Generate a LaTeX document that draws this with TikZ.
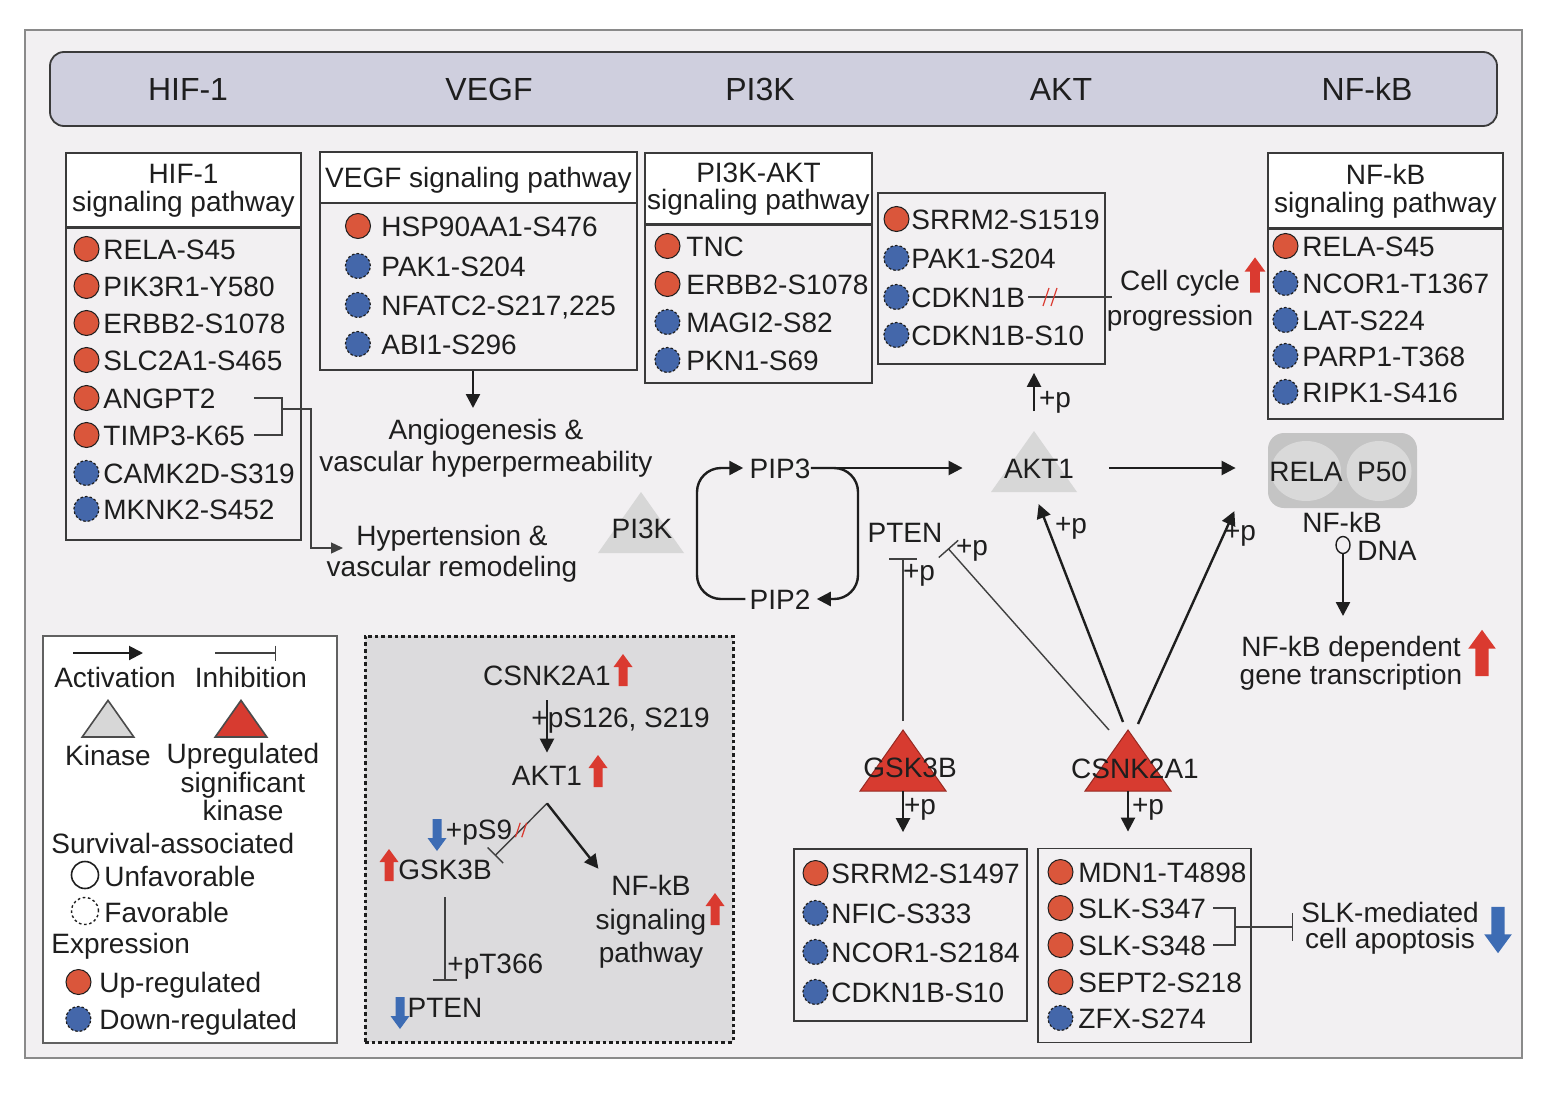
\documentclass[tikz,border=0pt]{standalone}
\usepackage{fontspec}
\setmainfont{Liberation Sans}
\usetikzlibrary{arrows.meta,positioning,shapes.geometric}

\definecolor{ink}{HTML}{1E1E1E}
\definecolor{boxLine}{HTML}{3A3A3A}
\definecolor{bgFrame}{HTML}{F2F0F2}
\definecolor{frameLine}{HTML}{8A8A8A}
\definecolor{bannerFill}{HTML}{CFCFDE}
\definecolor{upRed}{HTML}{DA563B}
\definecolor{dnBlue}{HTML}{4467AA}
\definecolor{kinGray}{HTML}{D7D7D7}
\definecolor{upTri}{HTML}{D73B30}
\definecolor{arrRed}{HTML}{DA3A30}
\definecolor{arrBlue}{HTML}{3D6CB4}
\definecolor{insetFill}{HTML}{DCDBDD}
\definecolor{cplxFill}{HTML}{C4C4C4}
\definecolor{subFill}{HTML}{D9D9D9}

\begin{document}
\begin{tikzpicture}[
    x=0.5pt, y=-0.5pt,
    every node/.style={font=\fontsize{14}{14}\selectfont, inner sep=0pt, text=ink},
    lbl/.style={text height=10pt, text depth=0pt},
    band/.style={font=\fontsize{16}{16}\selectfont, text height=11.5pt, text depth=0pt},
    multi/.style={align=center, anchor=north, font=\fontsize{14}{#1}\selectfont},
    it/.style={anchor=west, text height=10pt, text depth=0pt},
    updot/.style={circle, fill=upRed, draw=ink, line width=0.5pt, minimum size=12.5pt},
    dndot/.style={circle, fill=dnBlue, draw=ink, line width=0.6pt, dash pattern=on 1.3pt off 1pt, minimum size=12.5pt},
    upd/.style={label={[updot, xshift=-#1]left:{}}},
    dnd/.style={label={[dndot, xshift=-#1]left:{}}},
    hdr/.style={rectangle, draw=boxLine, line width=0.9pt, fill=white, align=center, font=\fontsize{14}{13.8}\selectfont},
    listbox/.style={rectangle, draw=boxLine, line width=0.9pt},
    subunit/.style={ellipse, fill=subFill, minimum height=30pt},
    act/.style={draw=ink, line width=1.2pt, -{Triangle[length=7pt,width=7pt]}},
    inh/.style={draw=ink!85, line width=0.7pt, -{Bar[width=#1]}},
    inh/.default=13pt,
    link/.style={draw=ink!85, line width=0.7pt},
    kintri/.pic={
        \path[pic actions] (-43,0) -- (0,-61) -- (43,0) -- cycle;
        \coordinate (-apex) at (0,-61);
        \coordinate (-base) at (0,0);
    },
    fatup/.pic={
        \path[pic actions] (-4.5,16) -- (-4.5,-3) -- (-9.5,-3) -- (0,-16) -- (9.5,-3) -- (4.5,-3) -- (4.5,16) -- cycle;
    },
    cut/.pic={
        \draw[arrRed, line width=0.6pt] (-7,9) -- (-1,-9) (1,9) -- (7,-9);
    }
]
    \useasboundingbox (0,0) rectangle (1546,1092);
    \draw[frameLine, line width=0.8pt, fill=bgFrame] (25,30) rectangle (1522,1058);

    % banner
    \node[rectangle, rounded corners=7pt, draw=boxLine, line width=0.9pt, fill=bannerFill, minimum width=723.5pt, minimum height=37pt] (banner) at (773.5,89) {};
    \node[band] (bHif) at (188,89) {HIF-1};
    \node[band] (bVegf) at (489,89) {VEGF};
    \node[band] (bPi3k) at (760,89) {PI3K};
    \node[band] (bAkt) at (1061,89) {AKT};
    \node[band] (bNfkb) at (1367,89) {NF-kB};

    % HIF-1 signaling pathway
    \node[hdr, minimum width=117.5pt, minimum height=37.5pt] (hifHead) at (183.5,190.5) {HIF-1\\signaling pathway};
    \node[listbox, minimum width=117.5pt, minimum height=156.5pt] (hifBox) at (183.5,383.5) {};
    \node[it, upd=1.75pt] (hifRela) at (103,249) {RELA-S45};
    \node[it, upd=1.75pt] (hifPik) at (103,286) {PIK3R1-Y580};
    \node[it, upd=1.75pt] (hifErbb) at (103,323) {ERBB2-S1078};
    \node[it, upd=1.75pt] (hifSlc) at (103,360) {SLC2A1-S465};
    \node[it, upd=1.75pt] (angpt) at (103,398) {ANGPT2};
    \node[it, upd=1.75pt] (timp) at (103,435) {TIMP3-K65};
    \node[it, dnd=1.75pt] (hifCamk) at (103,473) {CAMK2D-S319};
    \node[it, dnd=1.75pt] (hifMknk) at (103,509) {MKNK2-S452};

    % VEGF signaling pathway
    \node[hdr, minimum width=158.5pt, minimum height=25.5pt, text height=10pt, text depth=0pt] (vegfHead) at (478.5,177.5) {VEGF signaling pathway};
    \node[listbox, minimum width=158.5pt, minimum height=83.5pt] (vegfBox) at (478.5,286.5) {};
    \node[it, upd=5pt] (vegfHsp) at (381,226) {HSP90AA1-S476};
    \node[it, dnd=5pt] (vegfPak) at (381,266) {PAK1-S204};
    \node[it, dnd=5pt] (vegfNfat) at (381,305) {NFATC2-S217,225};
    \node[it, dnd=5pt] (vegfAbi) at (381,344) {ABI1-S296};

    % PI3K-AKT signaling pathway
    \node[hdr, minimum width=113.5pt, minimum height=36pt] (piHead) at (758.5,189) {PI3K-AKT\\signaling pathway};
    \node[listbox, minimum width=113.5pt, minimum height=79.5pt] (piBox) at (758.5,303.5) {};
    \node[it, upd=2.75pt] (piTnc) at (686,246) {TNC};
    \node[it, upd=2.75pt] (piErbb) at (686,284) {ERBB2-S1078};
    \node[it, dnd=2.75pt] (piMagi) at (686,322) {MAGI2-S82};
    \node[it, dnd=2.75pt] (piPkn) at (686,360) {PKN1-S69};

    % AKT substrates
    \node[listbox, minimum width=113.5pt, minimum height=85.5pt] (aktBox) at (991.5,278.5) {};
    \node[it, upd=0.75pt] (aktSrrm) at (911,219) {SRRM2-S1519};
    \node[it, dnd=0.75pt] (aktPak) at (911,258) {PAK1-S204};
    \node[it, dnd=0.75pt] (cdkn) at (911,297) {CDKN1B};
    \node[it, dnd=0.75pt] (aktCdkn) at (911,335) {CDKN1B-S10};

    % NF-kB signaling pathway
    \node[hdr, minimum width=117.5pt, minimum height=38pt] (nfHead) at (1385.5,191) {NF-kB\\signaling pathway};
    \node[listbox, minimum width=117.5pt, minimum height=95.5pt] (nfBox) at (1385.5,323.5) {};
    \node[it, upd=1.75pt] (nfRela) at (1302,246) {RELA-S45};
    \node[it, dnd=1.75pt] (nfNcor) at (1302,283) {NCOR1-T1367};
    \node[it, dnd=1.75pt] (nfLat) at (1302,320) {LAT-S224};
    \node[it, dnd=1.75pt] (nfParp) at (1302,356) {PARP1-T368};
    \node[it, dnd=1.75pt] (nfRipk) at (1302,392) {RIPK1-S416};

    % GSK3B and CSNK2A1 substrates
    \node[listbox, minimum width=116.5pt, minimum height=86pt] (gskBox) at (910.5,935) {};
    \node[it, upd=1.25pt] (gsSrrm) at (831,873) {SRRM2-S1497};
    \node[it, dnd=1.25pt] (gsNfic) at (831,913) {NFIC-S333};
    \node[it, dnd=1.25pt] (gsNcor) at (831,952) {NCOR1-S2184};
    \node[it, dnd=1.25pt] (gsCdkn) at (831,992) {CDKN1B-S10};
    \node[listbox, minimum width=106.5pt, minimum height=97pt] (csnBox) at (1144.5,945.5) {};
    \node[it, upd=2.25pt] (csMdn) at (1078,872) {MDN1-T4898};
    \node[it, upd=2.25pt] (slk347) at (1078,908) {SLK-S347};
    \node[it, upd=2.25pt] (slk348) at (1078,945) {SLK-S348};
    \node[it, upd=2.25pt] (csSept) at (1078,982) {SEPT2-S218};
    \node[it, dnd=2.25pt] (csZfx) at (1078,1018) {ZFX-S274};

    % outcomes
    \node[multi=16pt] (angio) at (486,419) {Angiogenesis \&\\vascular hyperpermeability};
    \node[multi=15.5pt] (hyper) at (452,525) {Hypertension \&\\vascular remodeling};
    \node[multi=17.5pt] (cellcyc) at (1180,270) {Cell cycle\\progression};
    \pic[fill=arrRed, scale=1.1] at (1255,275) {fatup};
    \node[multi=14pt] (geneTx) at (1351,636) {NF-kB dependent\\gene transcription};
    \pic[fill=arrRed, scale=1.45] at (1482,653) {fatup};
    \node[multi=13pt] (apop) at (1390,902) {SLK-mediated\\cell apoptosis};
    \pic[fill=arrBlue, scale=1.45, rotate=180] at (1498,930) {fatup};

    % kinases
    \pic[fill=kinGray] (pik) at (641,553) {kintri};
    \node[lbl] (pi3kTxt) at (642,528) {PI3K};
    \pic[fill=kinGray] (akt) at (1034,492) {kintri};
    \node[lbl] (akt1) at (1039,468) {AKT1};
    \pic[fill=upTri, draw=upTri!70!black, line width=0.5pt] (gsk) at (903,791) {kintri};
    \node[lbl] (gskTxt) at (910,767) {GSK3B};
    \pic[fill=upTri, draw=upTri!70!black, line width=0.5pt] (csn) at (1128,791) {kintri};
    \node[lbl] (csnTxt) at (1135,768) {CSNK2A1};
    \node[lbl] (pip3) at (780,468) {PIP3};
    \node[lbl] (pip2) at (780,599) {PIP2};
    \node[lbl] (pten) at (905,532) {PTEN};

    % NF-kB complex
    \node[rectangle, rounded corners=8pt, fill=cplxFill, minimum width=74.5pt, minimum height=37.5pt] (complex) at (1342.5,470.5) {};
    \node[subunit, minimum width=35pt] (relaSub) at (1306,471) {};
    \node[subunit, minimum width=32.5pt] (p50Sub) at (1379,471) {};
    \node[lbl] (rela) at (1306,471) {RELA};
    \node[lbl] (p50) at (1382,471) {P50};
    \node[lbl] (nfLbl) at (1342,522) {NF-kB};
    \node[ellipse, draw=ink, line width=0.7pt, fill=bgFrame, minimum width=7pt, minimum height=8.5pt] (dna) at (1343,545) {};
    \node[lbl] (dnaTxt) at (1387,550) {DNA};

    % phosphorylation labels
    \node[lbl] (pAktBox) at (1055,397) {+p};
    \node[lbl] (pGsk) at (919,570) {+p};
    \node[lbl] (pCsnPten) at (972,545) {+p};
    \node[lbl] (pCsnAkt) at (1071,523) {+p};
    \node[lbl] (pCsnNf) at (1240,530) {+p};
    \node[lbl] (pGskOut) at (920,804) {+p};
    \node[lbl] (pCsnOut) at (1148,804) {+p};

    % connectors
    \coordinate (hifJoin) at (282,409);
    \coordinate (hypIn) at (343,548);
    \draw[link] ([xshift=19pt]angpt.east) -| (hifJoin) |- ([xshift=4.5pt]timp.east);
    \draw[link, -{Triangle[length=6pt,width=5.5pt]}] (hifJoin) -- (311,409) |- (hypIn);
    \coordinate (angioIn) at (473,408);
    \draw[act] (vegfBox.south -| angioIn) -- (angioIn);
    \draw[act, rounded corners=12pt, shorten <=2pt, shorten >=3pt] (pip2.west) -| (697,535) |- (pip3.west);
    \draw[act, rounded corners=12pt, shorten >=3pt] (pip3.east) -| (858,535) |- (pip2.east);
    \draw[act, shorten <=1pt, shorten >=20.5pt] (pip3.east) -- (akt1.west);
    \draw[act, shorten <=17.5pt, shorten >=16pt] (akt1.east) -- (akt1.east -| complex.west);
    \draw[act, shorten <=10pt, shorten >=4pt] (akt-apex) -- (akt-apex |- aktBox.south);
    \draw[link, shorten <=1.5pt, shorten >=-3pt] (cdkn.east) -- (cdkn.east -| cellcyc.west);
    \pic at (1050,297) {cut};
    \draw[inh=14pt, shorten <=4.5pt, shorten >=8pt] (gsk-apex) -- (gsk-apex |- pten.south);
    \draw[inh=13pt, shorten >=4pt] ([xshift=-9.5pt]csn-apex) -- (pten.south east);
    \draw[act, shorten >=6.5pt] ([xshift=-2.5pt,yshift=4pt]csn-apex) -- (akt-base);
    \draw[act, shorten >=1.5pt] ([xshift=5pt,yshift=3pt]csn-apex) -- ([xshift=-16pt]complex.south west);
    \draw[act, shorten >=8pt] (gsk-base) -- (gsk-base |- gskBox.north);
    \draw[act, shorten >=8pt] (csn-base) -- (csn-base |- csnBox.north);
    \draw[act, shorten >=10pt] (dna.south) -- (dna.south |- geneTx.north);
    \coordinate (slkJoin) at (1235,927);
    \draw[link] ([xshift=3.5pt]slk347.east) -| (slkJoin) |- ([xshift=3.5pt]slk348.east);
    \draw[inh=14pt, shorten >=3.75pt] (slkJoin) -- (slkJoin -| apop.west);

    % legend
    \node[rectangle, draw=boxLine!80, line width=0.8pt, fill=white, minimum width=147pt, minimum height=203.5pt] (legend) at (190,839.5) {};
    \coordinate (actL) at (73,653);
    \coordinate (actR) at (143,653);
    \coordinate (inhL) at (215,653);
    \coordinate (inhR) at (276,653);
    \draw[act, line width=1pt] (actL) -- (actR);
    \draw[inh=7.5pt] (inhL) -- (inhR);
    \node[lbl] (legAct) at (115,677) {Activation};
    \node[lbl] (legInh) at (251,677) {Inhibition};
    \pic[fill=kinGray, draw=ink!80, line width=0.8pt, scale=0.6] at (108,737) {kintri};
    \pic[fill=upTri, draw=ink!80, line width=0.8pt, scale=0.6] at (241,737) {kintri};
    \node[lbl] (legKin) at (108,755) {Kinase};
    \node[multi=14.3pt] (legUpK) at (243,743) {Upregulated\\significant\\kinase};
    \node[it] (legSurv) at (51,843) {Survival-associated};
    \node[circle, draw=ink, line width=0.8pt, fill=white, minimum size=13.5pt] (legUnfC) at (85,875) {};
    \node[it] (legUnf) at (104,876) {Unfavorable};
    \node[circle, draw=ink, line width=0.7pt, dash pattern=on 1.3pt off 1.3pt, minimum size=13.5pt] (legFavC) at (85,911) {};
    \node[it] (legFav) at (104,912) {Favorable};
    \node[it] (legExpr) at (51,943) {Expression};
    \node[it, upd=3.75pt] (legUp) at (99,982) {Up-regulated};
    \node[it, dnd=3.75pt] (legDn) at (99,1019) {Down-regulated};

    % inset
    \node[rectangle, fill=insetFill, draw=ink, line width=1.5pt, dash pattern=on 1.8pt off 1.5pt, minimum width=184pt, minimum height=203pt] (inset) at (549,839) {};
    \node[lbl] (iCsnk) at (547,675) {CSNK2A1};
    \pic[fill=arrRed] at (623,670) {fatup};
    \node[it] (iPs126) at (531,717) {+pS126, S219};
    \node[lbl] (iAkt) at (547,775) {AKT1};
    \pic[fill=arrRed] at (598,771) {fatup};
    \node[lbl] (iPs9) at (479,829) {+pS9};
    \pic[fill=arrBlue, rotate=180] at (437,835) {fatup};
    \node[lbl] (iGsk) at (445,869) {GSK3B};
    \pic[fill=arrRed] at (389,865) {fatup};
    \node[it] (iPt366) at (447,963) {+pT366};
    \node[lbl] (iPten) at (445,1007) {PTEN};
    \pic[fill=arrBlue, rotate=180] at (400,1013) {fatup};
    \node[multi=16.8pt] (iNfkb) at (651,875) {NF-kB\\signaling\\pathway};
    \pic[fill=arrRed] at (715,909) {fatup};
    \coordinate (iFork) at ([yshift=-9pt]iAkt.south);
    \draw[act, shorten <=7.5pt, shorten >=6pt] (iCsnk.south) -- (iAkt.north);
    \draw[inh=11pt, shorten >=2pt] (iFork) -- (iGsk.north east);
    \pic[scale=0.8] at (521,830) {cut};
    \draw[act, shorten >=4pt] (iFork) -- ([xshift=4pt]iNfkb.north west);
    \draw[inh=12pt, shorten <=9pt, shorten >=8pt] (iGsk.south) -- (iPten.north);
\end{tikzpicture}
\end{document}
